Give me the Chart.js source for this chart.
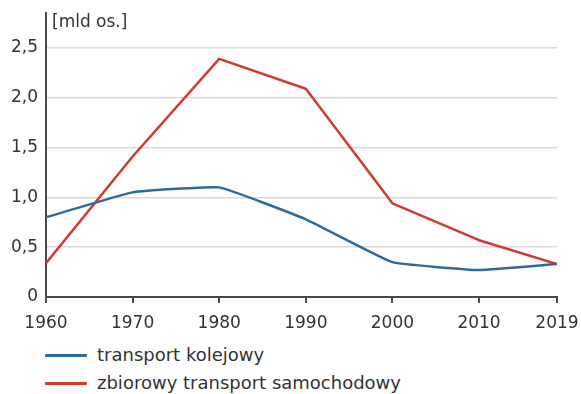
<!DOCTYPE html>
<html lang="pl">
<head>
<meta charset="utf-8">
<script src="https://cdn.jsdelivr.net/npm/chart.js@4/dist/chart.umd.min.js"></script>
<style>
  html, body { margin: 0; padding: 0; background: #fff; }
  #wrap { position: relative; width: 581px; height: 394px; overflow: hidden; font-family: "DejaVu Sans", sans-serif; color: #333; }
  #chartBox { position: absolute; left: 0; top: 0; width: 581px; height: 340px; }
  #unit { position: absolute; left: 52px; top: 11px; font-size: 17px; line-height: 20px; color: #333; }
  .leg { position: absolute; left: 45px; height: 20px; font-size: 18px; line-height: 20px; color: #333; }
  .leg .sw { position: absolute; left: 0; top: 9px; width: 42px; height: 3px; border-radius: 1px; }
  .leg span.t { position: absolute; left: 52px; top: 0; white-space: nowrap; }
</style>
</head>
<body>
<div id="wrap">
  <div id="chartBox"><canvas id="c"></canvas></div>
  <div id="unit">[mld os.]</div>
  <div class="leg" id="leg1" style="top:345px"><div class="sw"></div><span class="t"></span></div>
  <div class="leg" id="leg2" style="top:373px"><div class="sw"></div><span class="t"></span></div>
</div>
<script>
// Passenger transport in Poland, billions of passengers
const years = [1960, 1970, 1980, 1990, 2000, 2010, 2019];
const railPassengers = [0.80, 1.05, 1.10, 0.78, 0.35, 0.27, 0.33];
const busPassengers = [0.34, 1.41, 2.39, 2.09, 0.94, 0.57, 0.33];
const yTickValues = [0, 0.5, 1, 1.5, 2, 2.5];
const seriesNames = ['transport kolejowy', 'zbiorowy transport samochodowy'];

const BLUE = '#2f6a9f';
const RED = '#d23a2f';
const AXIS = '#4a4a4a';
const GRID = '#d9d9d9';
const TEXT = '#333333';

const toPoints = vals => years.map((yr, i) => ({ x: yr, y: vals[i] }));

const legendItems = [
  { el: document.getElementById('leg1'), color: BLUE, name: seriesNames[0] },
  { el: document.getElementById('leg2'), color: RED, name: seriesNames[1] }
];
legendItems.forEach(it => {
  it.el.querySelector('.sw').style.background = it.color;
  it.el.querySelector('.t').textContent = it.name;
});

new Chart(document.getElementById('c'), {
  type: 'line',
  data: {
    datasets: [
      {
        label: seriesNames[0],
        data: toPoints(railPassengers),
        borderColor: BLUE,
        borderWidth: 2.5,
        pointRadius: 0,
        tension: 0.1,
        borderCapStyle: 'round',
        borderJoinStyle: 'round'
      },
      {
        label: seriesNames[1],
        data: toPoints(busPassengers),
        borderColor: RED,
        borderWidth: 2.5,
        pointRadius: 0,
        tension: 0,
        borderCapStyle: 'round',
        borderJoinStyle: 'round'
      }
    ]
  },
  options: {
    responsive: true,
    maintainAspectRatio: false,
    animation: false,
    events: [],
    layout: { padding: { left: 0, right: 24, top: 13, bottom: 0 } },
    plugins: {
      legend: { display: false },
      tooltip: { enabled: false }
    },
    scales: {
      x: {
        type: 'linear',
        min: years[0],
        max: years[years.length - 1],
        afterBuildTicks: s => { s.ticks = years.map(v => ({ value: v })); },
        afterFit: s => { s.height = 43; s.paddingLeft = 0; s.paddingRight = 0; },
        border: { display: true, color: AXIS, width: 2 },
        grid: { drawOnChartArea: false, drawTicks: true, tickLength: 6, color: AXIS, lineWidth: 2 },
        ticks: {
          color: TEXT,
          padding: 10,
          maxRotation: 0,
          autoSkip: false,
          font: { family: 'DejaVu Sans', size: 17 },
          callback: v => String(v)
        }
      },
      y: {
        type: 'linear',
        min: 0,
        max: 2.85,
        afterBuildTicks: s => { s.ticks = yTickValues.map(v => ({ value: v })); },
        afterFit: s => { s.width = 46; s.paddingTop = 0; s.paddingBottom = 0; },
        border: { display: true, color: AXIS, width: 2 },
        grid: { drawTicks: false, color: GRID, lineWidth: 1.5 },
        ticks: {
          color: TEXT,
          padding: 8,
          font: { family: 'DejaVu Sans', size: 17 },
          callback: v => v === 0 ? '0' : v.toFixed(1).replace('.', ',')
        }
      }
    }
  }
});
</script>
</body>
</html>
